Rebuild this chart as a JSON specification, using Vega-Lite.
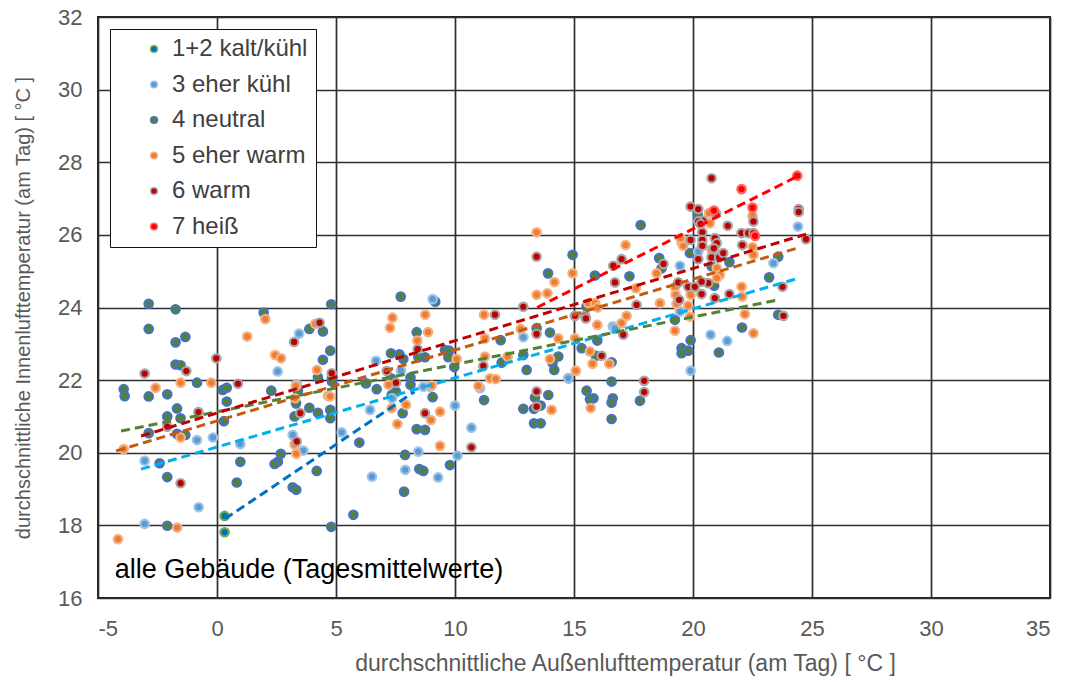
{
"$schema": "https://vega.github.io/schema/vega-lite/v6.json",
"width": 952, "height": 581,
"autosize": "none",
"padding": {"left": 98, "top": 17, "right": 16, "bottom": 84},
"background": "white",
"config": {
  "font": "Liberation Sans",
  "view": {"stroke": "#222222", "strokeWidth": 2},
  "axis": {"gridColor": "#2e2e2e", "gridWidth": 1.7, "gridOpacity": 1, "domain": false, "ticks": false, "labelColor": "#595959", "labelFontSize": 22, "titleColor": "#595959", "titleFontWeight": "normal"}
},
"datasets": {
"pts": [
{"x":-2.87,"y":24.1,"k":"4 neutral"},{"x":-1.74,"y":23.95,"k":"4 neutral"},{"x":-2.87,"y":23.41,"k":"4 neutral"},{"x":-1.74,"y":23.04,"k":"4 neutral"},{"x":-1.33,"y":23.19,"k":"4 neutral"},{"x":-1.74,"y":22.43,"k":"4 neutral"},{"x":-1.53,"y":22.41,"k":"4 neutral"},{"x":-3.92,"y":21.75,"k":"4 neutral"},{"x":-3.88,"y":21.56,"k":"4 neutral"},{"x":-0.84,"y":21.93,"k":"4 neutral"},{"x":-2.87,"y":21.55,"k":"4 neutral"},{"x":-2.09,"y":21.61,"k":"4 neutral"},{"x":-1.68,"y":21.22,"k":"4 neutral"},{"x":-2.09,"y":21.0,"k":"4 neutral"},{"x":-1.53,"y":20.95,"k":"4 neutral"},{"x":-1.68,"y":20.52,"k":"4 neutral"},{"x":-1.33,"y":20.49,"k":"4 neutral"},{"x":-2.87,"y":20.54,"k":"4 neutral"},{"x":-2.41,"y":19.71,"k":"4 neutral"},{"x":-2.09,"y":19.33,"k":"4 neutral"},{"x":-2.09,"y":17.99,"k":"4 neutral"},{"x":4.8,"y":17.96,"k":"4 neutral"},{"x":4.8,"y":24.09,"k":"4 neutral"},{"x":1.96,"y":23.86,"k":"4 neutral"},{"x":3.88,"y":23.41,"k":"4 neutral"},{"x":4.45,"y":23.34,"k":"4 neutral"},{"x":4.76,"y":22.81,"k":"4 neutral"},{"x":4.45,"y":22.56,"k":"4 neutral"},{"x":4.24,"y":22.08,"k":"4 neutral"},{"x":2.28,"y":21.71,"k":"4 neutral"},{"x":3.4,"y":21.7,"k":"4 neutral"},{"x":3.26,"y":21.0,"k":"4 neutral"},{"x":3.88,"y":21.24,"k":"4 neutral"},{"x":4.24,"y":21.1,"k":"4 neutral"},{"x":4.76,"y":21.18,"k":"4 neutral"},{"x":4.76,"y":20.95,"k":"4 neutral"},{"x":2.68,"y":19.97,"k":"4 neutral"},{"x":2.56,"y":19.75,"k":"4 neutral"},{"x":2.42,"y":19.69,"k":"4 neutral"},{"x":4.19,"y":19.5,"k":"4 neutral"},{"x":3.18,"y":19.05,"k":"4 neutral"},{"x":3.33,"y":18.98,"k":"4 neutral"},{"x":0.98,"y":19.75,"k":"4 neutral"},{"x":0.83,"y":19.18,"k":"4 neutral"},{"x":0.24,"y":21.73,"k":"4 neutral"},{"x":0.41,"y":21.79,"k":"4 neutral"},{"x":0.41,"y":21.41,"k":"4 neutral"},{"x":0.29,"y":20.87,"k":"4 neutral"},{"x":3.32,"y":21.36,"k":"4 neutral"},
{"x":7.72,"y":24.3,"k":"4 neutral"},{"x":9.17,"y":24.16,"k":"4 neutral"},{"x":8.39,"y":23.32,"k":"4 neutral"},{"x":7.31,"y":22.74,"k":"4 neutral"},{"x":7.66,"y":22.71,"k":"4 neutral"},{"x":7.83,"y":22.58,"k":"4 neutral"},{"x":8.46,"y":22.63,"k":"4 neutral"},{"x":8.74,"y":22.63,"k":"4 neutral"},{"x":9.58,"y":22.83,"k":"4 neutral"},{"x":9.76,"y":22.81,"k":"4 neutral"},{"x":9.72,"y":22.63,"k":"4 neutral"},{"x":7.31,"y":22.05,"k":"4 neutral"},{"x":8.13,"y":22.07,"k":"4 neutral"},{"x":8.13,"y":21.87,"k":"4 neutral"},{"x":9.97,"y":22.36,"k":"4 neutral"},{"x":6.26,"y":21.91,"k":"4 neutral"},{"x":4.83,"y":22.05,"k":"4 neutral"},{"x":4.83,"y":21.96,"k":"4 neutral"},{"x":6.71,"y":21.75,"k":"4 neutral"},{"x":7.34,"y":21.59,"k":"4 neutral"},{"x":7.52,"y":21.68,"k":"4 neutral"},{"x":9.06,"y":21.53,"k":"4 neutral"},{"x":7.8,"y":21.09,"k":"4 neutral"},{"x":5.98,"y":20.28,"k":"4 neutral"},{"x":8.39,"y":20.65,"k":"4 neutral"},{"x":8.74,"y":20.63,"k":"4 neutral"},{"x":11.22,"y":21.45,"k":"4 neutral"},{"x":7.9,"y":19.94,"k":"4 neutral"},{"x":9.79,"y":19.66,"k":"4 neutral"},{"x":8.5,"y":19.55,"k":"4 neutral"},{"x":8.67,"y":19.5,"k":"4 neutral"},{"x":7.86,"y":18.93,"k":"4 neutral"},{"x":5.73,"y":18.29,"k":"4 neutral"},
{"x":13.91,"y":24.94,"k":"4 neutral"},{"x":13.43,"y":23.43,"k":"4 neutral"},{"x":13.99,"y":23.31,"k":"4 neutral"},{"x":11.92,"y":23.1,"k":"4 neutral"},{"x":11.96,"y":22.48,"k":"4 neutral"},{"x":12.87,"y":22.69,"k":"4 neutral"},{"x":13.01,"y":22.28,"k":"4 neutral"},{"x":14.1,"y":22.47,"k":"4 neutral"},{"x":14.17,"y":22.28,"k":"4 neutral"},{"x":14.34,"y":22.65,"k":"4 neutral"},{"x":14.77,"y":22.05,"k":"4 neutral"},{"x":13.36,"y":21.52,"k":"4 neutral"},{"x":13.6,"y":21.3,"k":"4 neutral"},{"x":13.92,"y":21.59,"k":"4 neutral"},{"x":12.87,"y":21.21,"k":"4 neutral"},{"x":13.32,"y":21.21,"k":"4 neutral"},{"x":13.32,"y":20.81,"k":"4 neutral"},{"x":13.6,"y":20.81,"k":"4 neutral"},{"x":14.94,"y":25.45,"k":"4 neutral"},
{"x":20.2,"y":26.55,"k":"4 neutral"},{"x":19.87,"y":25.5,"k":"4 neutral"},{"x":20.78,"y":25.14,"k":"4 neutral"},{"x":20.89,"y":24.6,"k":"4 neutral"},{"x":21.53,"y":25.25,"k":"4 neutral"},{"x":23.58,"y":25.4,"k":"4 neutral"},{"x":23.2,"y":24.83,"k":"4 neutral"},{"x":19.24,"y":23.66,"k":"4 neutral"},{"x":22.06,"y":23.45,"k":"4 neutral"},{"x":23.58,"y":23.8,"k":"4 neutral"},{"x":21.09,"y":22.76,"k":"4 neutral"},{"x":19.9,"y":23.1,"k":"4 neutral"},{"x":19.52,"y":22.88,"k":"4 neutral"},{"x":19.8,"y":22.81,"k":"4 neutral"},{"x":19.52,"y":22.74,"k":"4 neutral"},{"x":17.8,"y":26.27,"k":"4 neutral"},{"x":15.88,"y":24.88,"k":"4 neutral"},{"x":17.33,"y":24.86,"k":"4 neutral"},{"x":18.58,"y":25.36,"k":"4 neutral"},{"x":18.68,"y":25.08,"k":"4 neutral"},{"x":15.53,"y":24.03,"k":"4 neutral"},{"x":15.32,"y":22.88,"k":"4 neutral"},{"x":15.98,"y":23.09,"k":"4 neutral"},{"x":15.92,"y":22.67,"k":"4 neutral"},{"x":16.58,"y":22.49,"k":"4 neutral"},{"x":16.58,"y":21.96,"k":"4 neutral"},{"x":15.53,"y":21.71,"k":"4 neutral"},{"x":15.82,"y":21.5,"k":"4 neutral"},{"x":15.67,"y":21.47,"k":"4 neutral"},{"x":16.63,"y":21.5,"k":"4 neutral"},{"x":16.58,"y":21.38,"k":"4 neutral"},{"x":17.77,"y":21.43,"k":"4 neutral"},{"x":16.58,"y":20.93,"k":"4 neutral"},
{"x":-0.84,"y":20.35,"k":"3 eher kühl"},{"x":-0.17,"y":20.42,"k":"3 eher kühl"},{"x":-3.04,"y":19.78,"k":"3 eher kühl"},{"x":-0.77,"y":18.5,"k":"3 eher kühl"},{"x":-3.04,"y":18.04,"k":"3 eher kühl"},{"x":3.45,"y":23.28,"k":"3 eher kühl"},{"x":2.55,"y":22.24,"k":"3 eher kühl"},{"x":3.18,"y":20.49,"k":"3 eher kühl"},{"x":3.63,"y":20.06,"k":"3 eher kühl"},{"x":0.98,"y":20.24,"k":"3 eher kühl"},{"x":5.24,"y":20.56,"k":"3 eher kühl"},{"x":9.06,"y":24.23,"k":"3 eher kühl"},{"x":6.68,"y":22.53,"k":"3 eher kühl"},{"x":7.73,"y":22.26,"k":"3 eher kühl"},{"x":7.36,"y":21.5,"k":"3 eher kühl"},{"x":8.67,"y":21.82,"k":"3 eher kühl"},{"x":8.95,"y":21.82,"k":"3 eher kühl"},{"x":6.43,"y":21.18,"k":"3 eher kühl"},{"x":10.0,"y":21.3,"k":"3 eher kühl"},{"x":11.05,"y":21.78,"k":"3 eher kühl"},{"x":10.69,"y":20.69,"k":"3 eher kühl"},{"x":8.46,"y":20.03,"k":"3 eher kühl"},{"x":10.1,"y":19.92,"k":"3 eher kühl"},{"x":7.91,"y":19.53,"k":"3 eher kühl"},{"x":6.51,"y":19.34,"k":"3 eher kühl"},{"x":9.29,"y":19.32,"k":"3 eher kühl"},{"x":12.87,"y":23.18,"k":"3 eher kühl"},{"x":20.22,"y":25.54,"k":"3 eher kühl"},{"x":19.45,"y":25.15,"k":"3 eher kühl"},{"x":23.38,"y":25.22,"k":"3 eher kühl"},{"x":24.41,"y":26.23,"k":"3 eher kühl"},{"x":19.45,"y":23.89,"k":"3 eher kühl"},{"x":20.74,"y":23.25,"k":"3 eher kühl"},{"x":21.44,"y":23.08,"k":"3 eher kühl"},{"x":19.9,"y":22.26,"k":"3 eher kühl"},{"x":16.63,"y":23.48,"k":"3 eher kühl"},{"x":16.72,"y":23.43,"k":"3 eher kühl"},{"x":14.76,"y":22.05,"k":"3 eher kühl"},{"x":3.35,"y":21.89,"k":"3 eher kühl"},
{"x":-2.58,"y":21.79,"k":"5 eher warm"},{"x":-1.53,"y":21.93,"k":"5 eher warm"},{"x":-0.24,"y":21.93,"k":"5 eher warm"},{"x":-3.92,"y":20.1,"k":"5 eher warm"},{"x":-1.53,"y":20.42,"k":"5 eher warm"},{"x":-1.67,"y":17.94,"k":"5 eher warm"},{"x":-4.16,"y":17.62,"k":"5 eher warm"},{"x":2.03,"y":23.68,"k":"5 eher warm"},{"x":1.27,"y":23.2,"k":"5 eher warm"},{"x":4.13,"y":23.55,"k":"5 eher warm"},{"x":2.44,"y":22.69,"k":"5 eher warm"},{"x":2.69,"y":22.6,"k":"5 eher warm"},{"x":4.2,"y":22.28,"k":"5 eher warm"},{"x":3.31,"y":21.84,"k":"5 eher warm"},{"x":4.66,"y":21.57,"k":"5 eher warm"},{"x":3.26,"y":20.23,"k":"5 eher warm"},{"x":3.33,"y":19.97,"k":"5 eher warm"},{"x":3.28,"y":21.5,"k":"5 eher warm"},
{"x":7.37,"y":23.72,"k":"5 eher warm"},{"x":7.27,"y":23.44,"k":"5 eher warm"},{"x":8.75,"y":23.8,"k":"5 eher warm"},{"x":8.87,"y":23.32,"k":"5 eher warm"},{"x":8.42,"y":23.09,"k":"5 eher warm"},{"x":7.21,"y":21.87,"k":"5 eher warm"},{"x":10.07,"y":22.58,"k":"5 eher warm"},{"x":4.75,"y":21.55,"k":"5 eher warm"},{"x":9.02,"y":21.85,"k":"5 eher warm"},{"x":7.94,"y":21.32,"k":"5 eher warm"},{"x":7.34,"y":21.23,"k":"5 eher warm"},{"x":8.99,"y":20.9,"k":"5 eher warm"},{"x":9.37,"y":21.13,"k":"5 eher warm"},{"x":7.58,"y":20.79,"k":"5 eher warm"},{"x":10.98,"y":21.84,"k":"5 eher warm"},{"x":9.37,"y":20.19,"k":"5 eher warm"},
{"x":14.94,"y":24.94,"k":"5 eher warm"},{"x":14.18,"y":24.7,"k":"5 eher warm"},{"x":13.43,"y":24.35,"k":"5 eher warm"},{"x":13.88,"y":24.39,"k":"5 eher warm"},{"x":11.22,"y":23.8,"k":"5 eher warm"},{"x":14.34,"y":23.15,"k":"5 eher warm"},{"x":12.76,"y":23.41,"k":"5 eher warm"},{"x":11.26,"y":23.15,"k":"5 eher warm"},{"x":11.26,"y":22.65,"k":"5 eher warm"},{"x":12.21,"y":22.65,"k":"5 eher warm"},{"x":11.47,"y":22.05,"k":"5 eher warm"},{"x":11.71,"y":22.03,"k":"5 eher warm"},{"x":13.99,"y":22.58,"k":"5 eher warm"},{"x":15.08,"y":22.25,"k":"5 eher warm"},{"x":14.06,"y":21.18,"k":"5 eher warm"},{"x":13.43,"y":26.07,"k":"5 eher warm"},
{"x":20.67,"y":26.6,"k":"5 eher warm"},{"x":20.71,"y":26.32,"k":"5 eher warm"},{"x":22.5,"y":26.52,"k":"5 eher warm"},{"x":19.52,"y":25.79,"k":"5 eher warm"},{"x":19.59,"y":25.7,"k":"5 eher warm"},{"x":22.5,"y":25.66,"k":"5 eher warm"},{"x":22.54,"y":25.45,"k":"5 eher warm"},{"x":21.0,"y":25.09,"k":"5 eher warm"},{"x":21.13,"y":24.9,"k":"5 eher warm"},{"x":21.0,"y":24.81,"k":"5 eher warm"},{"x":20.78,"y":25.59,"k":"5 eher warm"},{"x":19.24,"y":24.56,"k":"5 eher warm"},{"x":19.27,"y":24.35,"k":"5 eher warm"},{"x":19.9,"y":24.35,"k":"5 eher warm"},{"x":19.8,"y":24.05,"k":"5 eher warm"},{"x":19.31,"y":24.1,"k":"5 eher warm"},{"x":22.04,"y":24.57,"k":"5 eher warm"},{"x":22.07,"y":24.3,"k":"5 eher warm"},{"x":19.87,"y":23.75,"k":"5 eher warm"},{"x":19.24,"y":23.36,"k":"5 eher warm"},{"x":22.18,"y":23.82,"k":"5 eher warm"},{"x":22.54,"y":23.29,"k":"5 eher warm"},{"x":17.17,"y":25.72,"k":"5 eher warm"},{"x":18.47,"y":24.94,"k":"5 eher warm"},{"x":18.61,"y":24.12,"k":"5 eher warm"},{"x":17.6,"y":24.53,"k":"5 eher warm"},{"x":15.6,"y":24.12,"k":"5 eher warm"},{"x":15.88,"y":24.12,"k":"5 eher warm"},{"x":15.98,"y":24.0,"k":"5 eher warm"},{"x":15.98,"y":23.52,"k":"5 eher warm"},{"x":17.21,"y":23.77,"k":"5 eher warm"},{"x":17.0,"y":23.57,"k":"5 eher warm"},{"x":15.04,"y":23.15,"k":"5 eher warm"},{"x":15.67,"y":22.79,"k":"5 eher warm"},{"x":15.78,"y":22.45,"k":"5 eher warm"},{"x":16.48,"y":22.45,"k":"5 eher warm"},{"x":15.08,"y":22.26,"k":"5 eher warm"},{"x":15.7,"y":21.23,"k":"5 eher warm"},{"x":19.48,"y":25.91,"k":"5 eher warm"},
{"x":-1.29,"y":22.25,"k":"6 warm"},{"x":-3.04,"y":22.18,"k":"6 warm"},{"x":-0.03,"y":22.6,"k":"6 warm"},{"x":-0.78,"y":21.12,"k":"6 warm"},{"x":-2.09,"y":20.72,"k":"6 warm"},{"x":-1.53,"y":19.16,"k":"6 warm"},{"x":0.88,"y":21.9,"k":"6 warm"},{"x":3.24,"y":23.05,"k":"6 warm"},{"x":4.31,"y":23.58,"k":"6 warm"},{"x":3.5,"y":21.09,"k":"6 warm"},{"x":3.35,"y":20.31,"k":"6 warm"},{"x":4.82,"y":22.19,"k":"6 warm"},
{"x":8.43,"y":22.85,"k":"6 warm"},{"x":7.13,"y":22.25,"k":"6 warm"},{"x":7.52,"y":21.93,"k":"6 warm"},{"x":8.74,"y":21.09,"k":"6 warm"},{"x":10.69,"y":20.15,"k":"6 warm"},{"x":12.87,"y":24.02,"k":"6 warm"},{"x":11.68,"y":23.8,"k":"6 warm"},{"x":13.43,"y":23.27,"k":"6 warm"},{"x":11.19,"y":22.39,"k":"6 warm"},{"x":13.43,"y":21.69,"k":"6 warm"},{"x":13.43,"y":21.27,"k":"6 warm"},{"x":13.43,"y":25.4,"k":"6 warm"},
{"x":20.78,"y":27.56,"k":"6 warm"},{"x":19.9,"y":26.78,"k":"6 warm"},{"x":20.22,"y":26.71,"k":"6 warm"},{"x":20.41,"y":26.39,"k":"6 warm"},{"x":20.22,"y":26.37,"k":"6 warm"},{"x":20.32,"y":26.3,"k":"6 warm"},{"x":20.97,"y":26.58,"k":"6 warm"},{"x":21.46,"y":26.25,"k":"6 warm"},{"x":22.54,"y":26.37,"k":"6 warm"},{"x":24.44,"y":26.71,"k":"6 warm"},{"x":24.44,"y":26.63,"k":"6 warm"},{"x":24.75,"y":25.88,"k":"6 warm"},{"x":22.04,"y":26.05,"k":"6 warm"},{"x":22.32,"y":26.05,"k":"6 warm"},{"x":22.54,"y":26.05,"k":"6 warm"},{"x":20.39,"y":26.07,"k":"6 warm"},{"x":19.9,"y":25.86,"k":"6 warm"},{"x":20.39,"y":25.86,"k":"6 warm"},{"x":20.92,"y":25.91,"k":"6 warm"},{"x":21.0,"y":25.77,"k":"6 warm"},{"x":22.07,"y":25.72,"k":"6 warm"},{"x":20.39,"y":25.7,"k":"6 warm"},{"x":20.88,"y":25.63,"k":"6 warm"},{"x":20.78,"y":25.38,"k":"6 warm"},{"x":21.1,"y":25.38,"k":"6 warm"},{"x":21.27,"y":25.5,"k":"6 warm"},{"x":20.22,"y":25.33,"k":"6 warm"},{"x":23.76,"y":24.57,"k":"6 warm"},{"x":19.8,"y":24.57,"k":"6 warm"},{"x":20.08,"y":24.57,"k":"6 warm"},{"x":19.38,"y":24.69,"k":"6 warm"},{"x":20.64,"y":24.67,"k":"6 warm"},{"x":20.36,"y":24.71,"k":"6 warm"},{"x":19.42,"y":24.21,"k":"6 warm"},{"x":20.36,"y":24.37,"k":"6 warm"},{"x":20.92,"y":24.26,"k":"6 warm"},{"x":21.53,"y":24.37,"k":"6 warm"},{"x":23.8,"y":23.77,"k":"6 warm"},{"x":16.65,"y":25.15,"k":"6 warm"},{"x":17.0,"y":25.33,"k":"6 warm"},{"x":16.72,"y":24.69,"k":"6 warm"},{"x":18.76,"y":25.2,"k":"6 warm"},{"x":17.63,"y":24.07,"k":"6 warm"},{"x":15.04,"y":23.77,"k":"6 warm"},{"x":15.46,"y":23.77,"k":"6 warm"},{"x":15.5,"y":23.7,"k":"6 warm"},{"x":17.07,"y":23.25,"k":"6 warm"},{"x":16.16,"y":22.67,"k":"6 warm"},{"x":17.95,"y":21.98,"k":"6 warm"},{"x":17.95,"y":21.67,"k":"6 warm"},
{"x":22.04,"y":27.26,"k":"7 heiß"},{"x":24.38,"y":27.63,"k":"7 heiß"},{"x":20.88,"y":26.67,"k":"7 heiß"},{"x":22.5,"y":26.75,"k":"7 heiß"},{"x":22.61,"y":25.97,"k":"7 heiß"},
{"x":0.32,"y":17.81,"k":"1+2 kalt/kühl"},{"x":0.32,"y":18.26,"k":"1+2 kalt/kühl"}
],
"trend": [
{"x":0.34,"y":18.18,"l":"1+2"},{"x":8.3,"y":21.68,"l":"1+2"},
{"x":-3.19,"y":19.55,"l":"3"},{"x":24.4,"y":24.8,"l":"3"},
{"x":-4.03,"y":20.6,"l":"4"},{"x":23.5,"y":24.2,"l":"4"},
{"x":-4.24,"y":20.05,"l":"5"},{"x":24.4,"y":25.64,"l":"5"},
{"x":-3.19,"y":20.46,"l":"6"},{"x":24.9,"y":26.05,"l":"6"},
{"x":13.45,"y":24.0,"l":"7"},{"x":24.5,"y":27.65,"l":"7"}
],
"note": [{"x":-4.3,"y":16.77,"t":"alle Gebäude (Tagesmittelwerte)"}]
},
"encoding": {
  "x": {"field": "x", "type": "quantitative", "scale": {"domain": [-5, 35], "nice": false, "zero": false},
        "axis": {"values": [-5,0,5,10,15,20,25,30,35], "format": "d", "labelExpr": "datum.value < 0 ? '-' + abs(datum.value) : datum.label", "title": "durchschnittliche Außenlufttemperatur (am Tag) [ °C ]", "titleFontSize": 23, "labelPadding": 20, "titleX": 527, "titleY": 65, "titleAlign": "center", "titleBaseline": "middle"}},
  "y": {"field": "y", "type": "quantitative", "scale": {"domain": [16, 32], "nice": false, "zero": false},
        "axis": {"values": [16,18,20,22,24,26,28,30,32], "title": "durchschnittliche Innenlufttemperatur (am Tag) [ °C ]", "titleFontSize": 20, "labelPadding": 16, "titlePadding": 24}}
},
"layer": [
  {
    "data": {"name": "pts"},
    "mark": {"type": "point", "filled": true, "strokeWidth": 2.2, "size": 72, "opacity": 1, "strokeOpacity": 1},
    "encoding": {
      "fill": {"field": "k", "type": "nominal",
        "scale": {"domain": ["1+2 kalt/kühl","3 eher kühl","4 neutral","5 eher warm","6 warm","7 heiß"],
                  "range": ["#0070C0","#5B9BD5","#548235","#ED7D31","#C00000","#FF0000"]},
        "legend": {"title": null, "orient": "none", "legendX": 12, "legendY": 12, "padding": 8, "fillColor": "white", "strokeColor": "#111111",
                   "labelFontSize": 24, "labelColor": "#404040", "rowPadding": 11.5, "symbolType": "circle", "symbolSize": 45, "symbolOffset": 24, "labelOffset": 6}},
      "stroke": {"field": "k", "type": "nominal",
        "scale": {"domain": ["1+2 kalt/kühl","3 eher kühl","4 neutral","5 eher warm","6 warm","7 heiß"],
                  "range": ["#70AD47","#9DC3E6","#4472C4","#F4B183","#A5A5A5","#FF6666"]}}
    }
  },
  {
    "data": {"name": "trend"},
    "mark": {"type": "line", "strokeWidth": 3, "strokeDash": [9, 5]},
    "encoding": {
      "color": {"field": "l", "type": "nominal",
        "scale": {"domain": ["1+2","3","4","5","6","7"], "range": ["#0070C0","#00B0F0","#548235","#C55A11","#C00000","#FF0000"]},
        "legend": null}
    }
  },
  {
    "data": {"name": "note"},
    "mark": {"type": "text", "align": "left", "baseline": "middle", "fontSize": 27, "color": "#000000"},
    "encoding": {"text": {"field": "t"}}
  }
]
}
